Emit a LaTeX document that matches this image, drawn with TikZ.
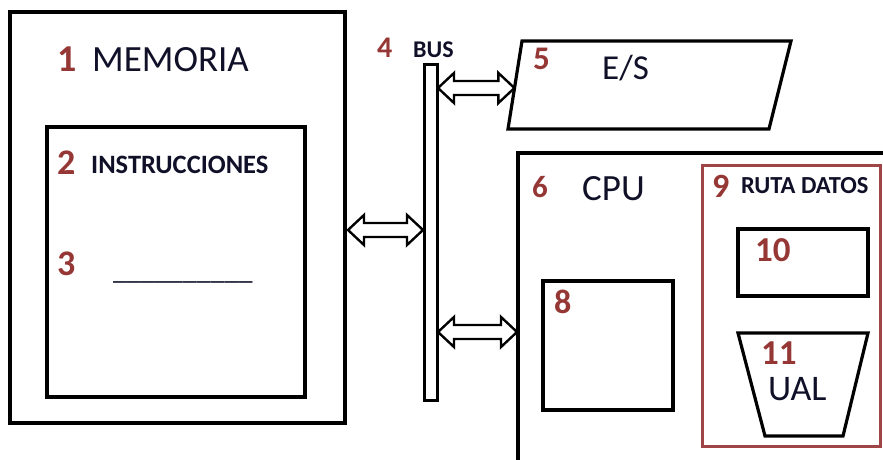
\documentclass[tikz,border=0pt]{standalone}
\usepackage{fontspec}
\setmainfont{Carlito}
\usetikzlibrary{calc}
\definecolor{numred}{HTML}{953735}
\definecolor{boxred}{HTML}{A04545}
\definecolor{txt}{HTML}{101028}
\tikzset{
  box/.style={draw=black, line width=3.2pt, inner sep=0pt, outer sep=0pt, fill=none},
  redbox/.style={draw=boxred, line width=3pt, inner sep=0pt, outer sep=0pt},
  num/.style={anchor=base west, inner sep=0pt, text=numred, font=\bfseries\fontsize{#1}{#1}\selectfont},
  lbl/.style={anchor=base west, inner sep=0pt, text=txt, font=\fontsize{#1}{#1}\selectfont},
  blbl/.style={anchor=base west, inner sep=0pt, text=txt, font=\bfseries\fontsize{#1}{#1}\selectfont},
  harrow/.style={draw=black, fill=white, line width=2.4pt, line join=miter},
}
% hollow double arrow between two points on the same height
\newcommand\hollowarrow[2]{%
  \draw[harrow] let \p1=(#1), \p2=(#2) in
    (\x1,\y1) -- (\x1+16pt,\y1+15pt) -- (\x1+16pt,\y1+7pt) -- (\x2-16pt,\y1+7pt)
    -- (\x2-16pt,\y1+15pt) -- (\x2,\y1) -- (\x2-16pt,\y1-15pt) -- (\x2-16pt,\y1-7pt)
    -- (\x1+16pt,\y1-7pt) -- (\x1+16pt,\y1-15pt) -- cycle;}
\begin{document}
\begin{tikzpicture}[x=1pt,y=-1pt]
\useasboundingbox (0,0) rectangle (883,460);
\begin{scope}
\clip (0,0) rectangle (883,460);
% MEMORIA
\node[box, minimum width=335pt, minimum height=411pt] (mem) at (177.5,217.5) {};
\node[box, minimum width=258pt, minimum height=270pt] (instr) at (176,262) {};
\node[num=38] (n1) at (57,71) {1};
\node[lbl=37] (tmem) at (92,71) {MEMORIA};
\node[num=36] (n2) at (57,174) {2};
\node[blbl=26.5] (tinstr) at (91,173) {INSTRUCCIONES};
\node[num=36] (n3) at (57,275) {3};
\node[lbl=28] (tblank) at (113,279) {\_\_\_\_\_\_\_\_\_\_};
% BUS
\node[box, line width=3pt, minimum width=13pt, minimum height=335pt] (bus) at (430.5,232.5) {};
\node[num=30] (n4) at (377,58) {4};
\node[blbl=24] (tbus) at (413,57) {BUS};
% E/S
\coordinate (esTL) at (522,41);
\coordinate (esTR) at (791,41);
\coordinate (esBR) at (769,129);
\coordinate (esBL) at (508,129);
\draw[black, line width=3.2pt, line join=miter] (esTL) -- (esTR) -- (esBR) -- (esBL) -- cycle;
\node[num=33] (n5) at (533,70) {5};
\node[lbl=35] (tes) at (602,80) {E/S};
% CPU
\node[box, minimum width=377pt, minimum height=322pt] (cpu) at (706.5,314) {};
\node[num=31] (n6) at (532,197) {6};
\node[lbl=37] (tcpu) at (582,200) {CPU};
\node[box, minimum width=130pt, minimum height=129pt] (b8) at (608,345.5) {};
\node[num=34] (n8) at (554,313) {8};
% RUTA DATOS
\node[redbox, minimum width=178pt, minimum height=281pt] (ruta) at (791,305.5) {};
\node[num=34] (n9) at (712,197) {9};
\node[blbl=24.5] (truta) at (741,193) {RUTA DATOS};
\node[box, minimum width=130pt, minimum height=67pt] (b10) at (803,262.5) {};
\node[num=35] (n10) at (755,261) {10};
% UAL
\coordinate (uTL) at (738,333);
\coordinate (uTR) at (868,333);
\coordinate (uBR) at (843,436);
\coordinate (uBL) at (765,436);
\draw[black, line width=3.2pt, line join=miter] (uTL) -- (uTR) -- (uBR) -- (uBL) -- cycle;
\node[num=35] (n11) at (761,364) {11};
\node[lbl=36] (tual) at (768,400) {UAL};
% connectors
\hollowarrow{$(mem.east |- 0,230)+(3,0)$}{$(bus.west |- 0,230)+(-1,0)$}
\hollowarrow{$(bus.east |- 0,88)+(1,0)$}{$(esTL)!0.54!(esBL)$}
\hollowarrow{$(bus.east |- 0,332)+(1,0)$}{$(cpu.west |- 0,332)+(-1,0)$}
\end{scope}
\end{tikzpicture}
\end{document}
